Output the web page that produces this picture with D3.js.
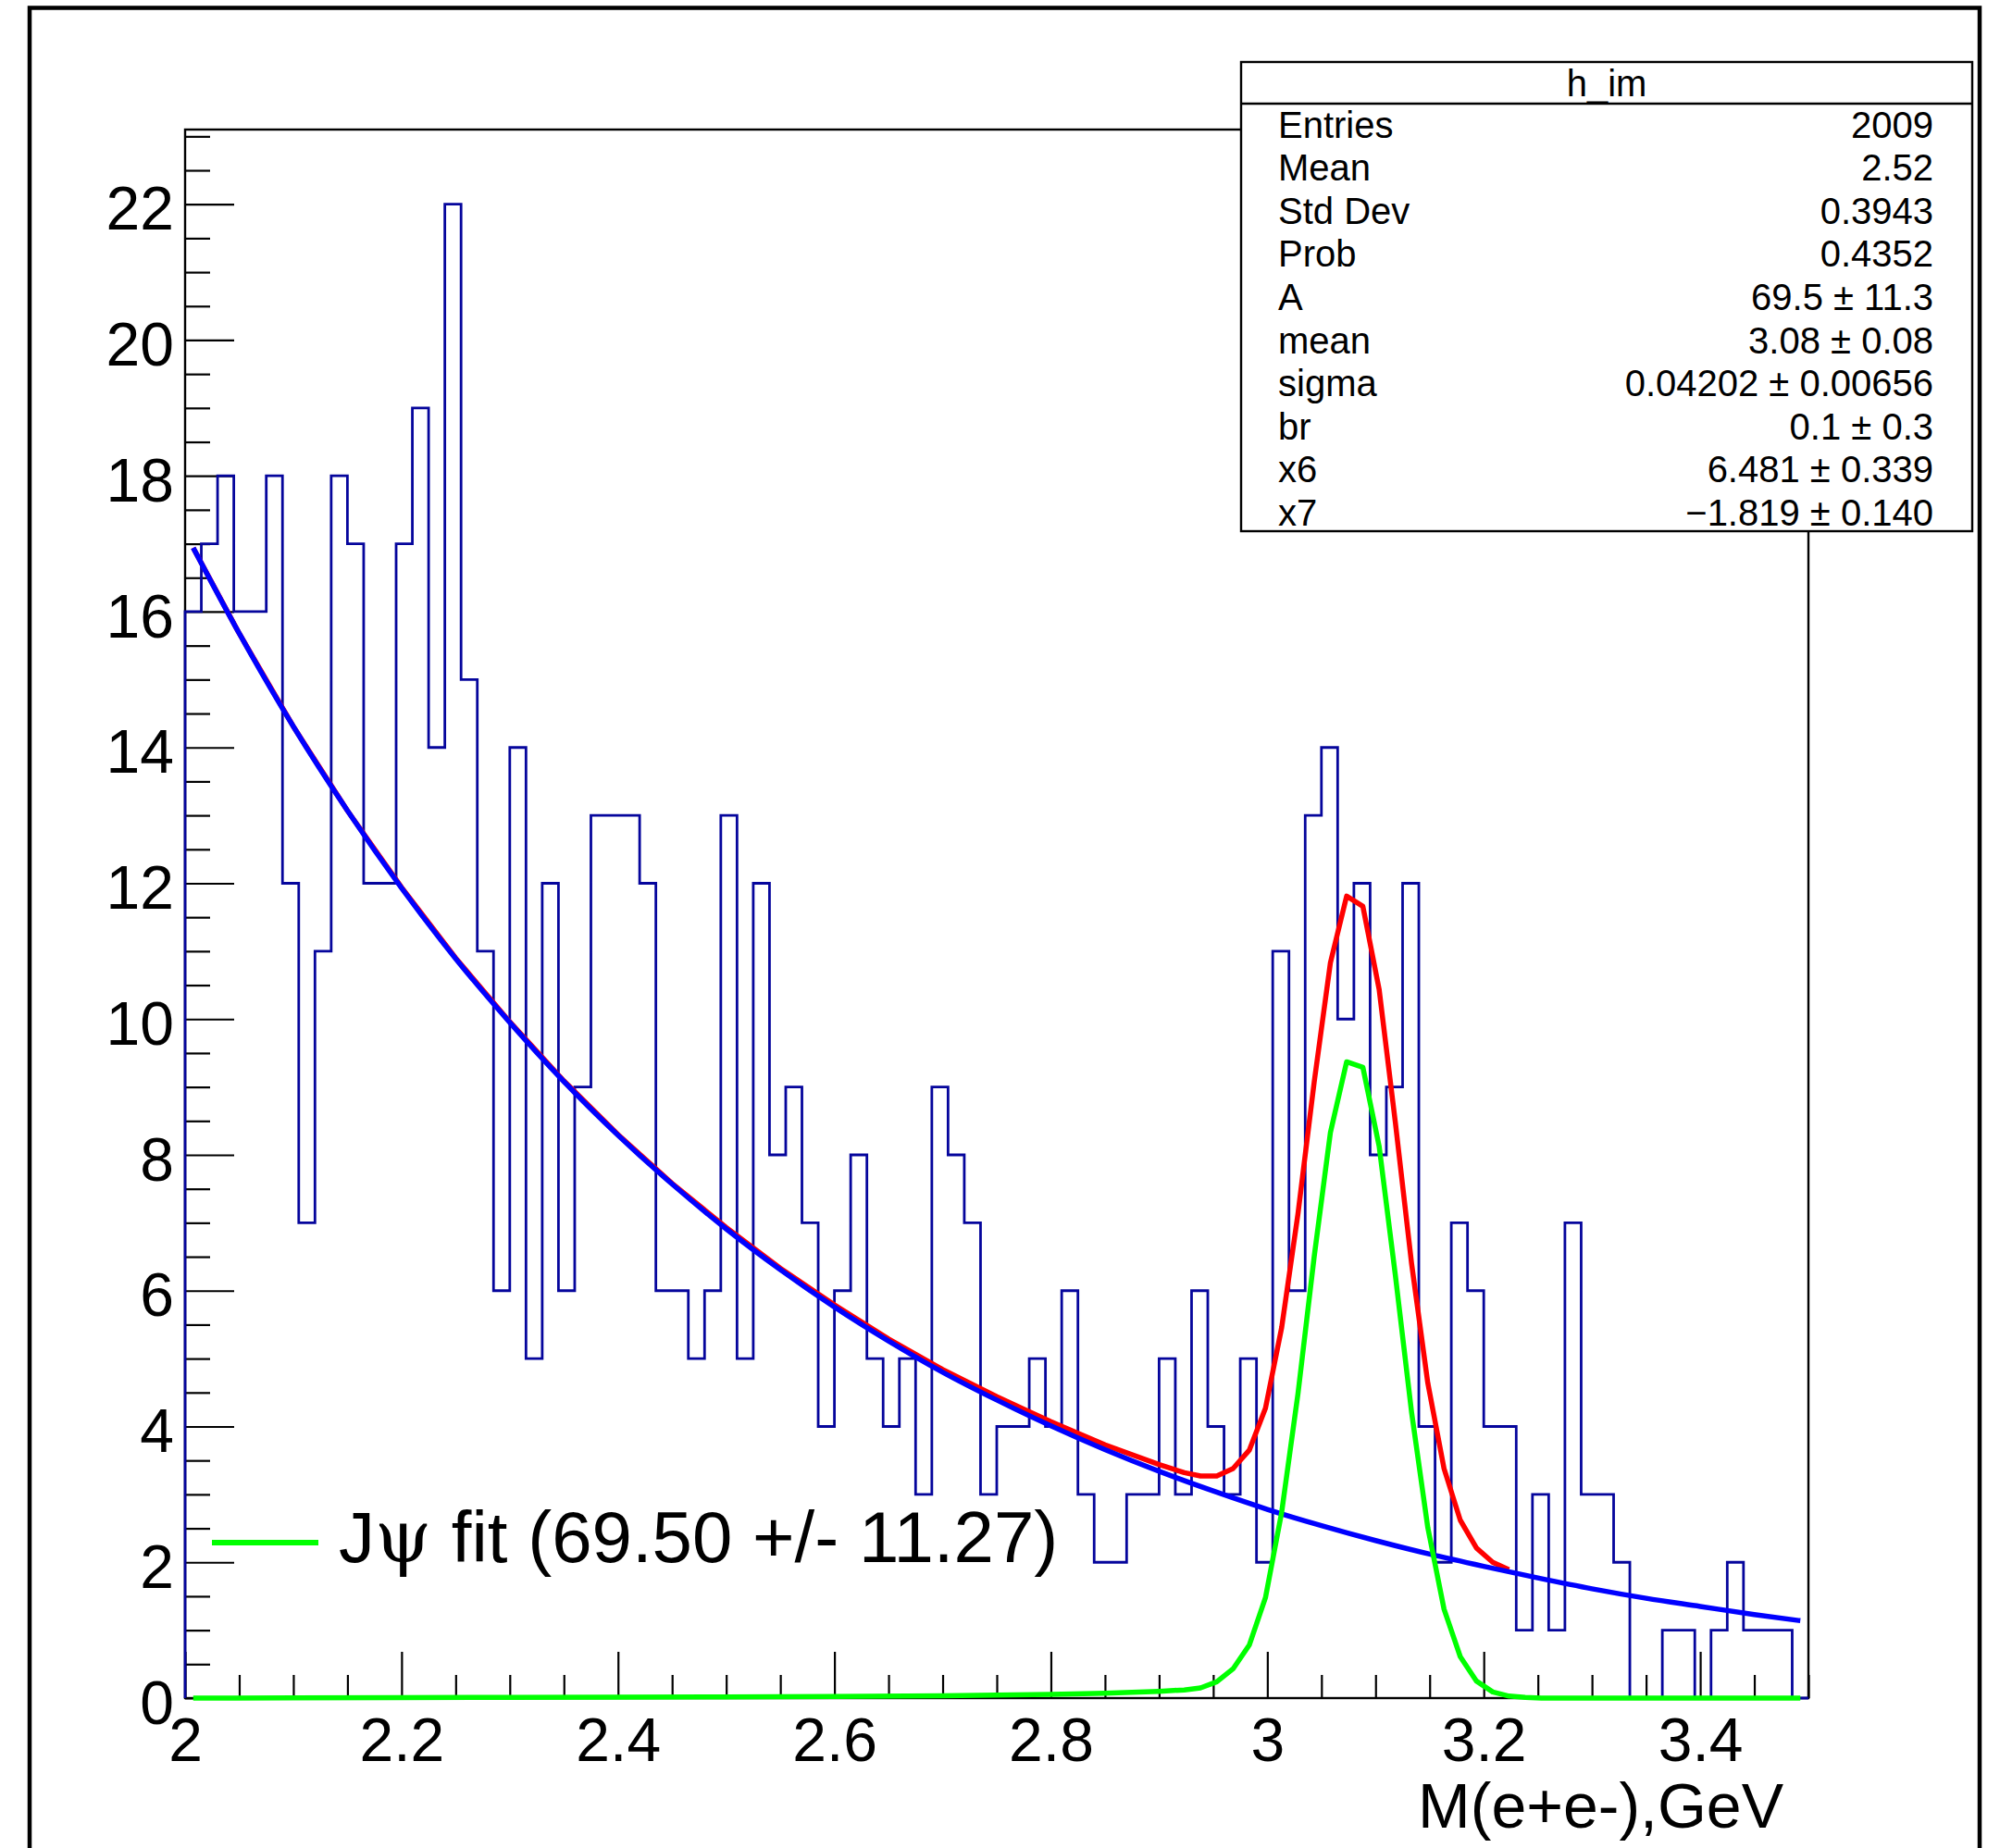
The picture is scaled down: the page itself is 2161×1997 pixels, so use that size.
<!DOCTYPE html>
<html>
<head>
<meta charset="utf-8">
<script src="https://cdn.jsdelivr.net/npm/d3@7"></script>
<style>
	body { margin: 0; background: #fff; }
	text { font-family: "Liberation Sans", Arial, Helvetica, sans-serif; }
</style>
</head>
<body>
<div id="container"></div>
<script>
// histogram h_im : 100 bins from 2.0 to 3.5 GeV
var binLow = 2.0, binWidth = 0.015;
var counts = [16, 17, 18, 16, 16, 18, 12, 7, 11, 18,
	17, 12, 12, 17, 19, 14, 22, 15, 11, 6,
	14, 5, 12, 6, 9, 13, 13, 13, 12, 6,
	6, 5, 6, 13, 5, 12, 8, 9, 7, 4,
	6, 8, 5, 4, 5, 3, 9, 8, 7, 3,
	4, 4, 5, 4, 6, 3, 2, 2, 3, 3,
	5, 3, 6, 4, 3, 5, 2, 11, 6, 13,
	14, 10, 12, 8, 9, 12, 4, 2, 7, 6,
	4, 4, 1, 3, 1, 7, 3, 3, 2, 0,
	0, 1, 1, 0, 1, 2, 1, 1, 1, 0];

// background fit (blue)
var bgX = [2.0075, 2.05, 2.10, 2.15, 2.20, 2.25, 2.30, 2.35, 2.40, 2.45, 2.50, 2.55, 2.60, 2.65, 2.70, 2.75,
	2.80, 2.85, 2.90, 2.95, 3.00, 3.05, 3.10, 3.15, 3.20, 3.25, 3.30, 3.35, 3.40, 3.45, 3.4925];
var bgY = [16.94, 15.68, 14.31, 13.07, 11.93, 10.89, 9.95, 9.08, 8.29, 7.57, 6.91, 6.31, 5.76, 5.26, 4.80, 4.39,
	4.01, 3.66, 3.34, 3.05, 2.78, 2.54, 2.32, 2.12, 1.94, 1.77, 1.61, 1.47, 1.35, 1.23, 1.14];

// total fit (red)
var totX = [2.0075, 2.05, 2.10, 2.15, 2.20, 2.25, 2.30, 2.35, 2.40, 2.45, 2.50, 2.55, 2.60, 2.65, 2.70, 2.75,
	2.80, 2.85, 2.90, 2.9233, 2.9383, 2.9533, 2.9683, 2.9833, 2.9983, 3.0133, 3.0283, 3.0433, 3.0583,
	3.0733, 3.0883, 3.1033, 3.1183, 3.1333, 3.1483, 3.1633, 3.1783, 3.1933, 3.2083, 3.2233];
var totY = [16.94, 15.68, 14.31, 13.07, 11.94, 10.90, 9.96, 9.09, 8.30, 7.58, 6.93, 6.33, 5.79, 5.29, 4.84, 4.44,
	4.07, 3.73, 3.44, 3.32, 3.27, 3.27, 3.38, 3.65, 4.27, 5.46, 7.13, 9.07, 10.83,
	11.81, 11.66, 10.44, 8.48, 6.40, 4.64, 3.38, 2.62, 2.21, 2.00, 1.89];

// J/psi signal (green)
var sigX = [2.0075, 2.10, 2.20, 2.30, 2.40, 2.50, 2.60, 2.70, 2.75, 2.80, 2.85, 2.90,
	2.9233, 2.9383, 2.9533, 2.9683, 2.9833, 2.9983, 3.0133, 3.0283, 3.0433, 3.0583, 3.0733,
	3.0883, 3.1033, 3.1183, 3.1333, 3.1483, 3.1633, 3.1783, 3.1933, 3.2083, 3.2233,
	3.2383, 3.2533, 3.30, 3.40, 3.4925];
var sigY = [0, 0.003, 0.006, 0.01, 0.012, 0.018, 0.025, 0.035, 0.045, 0.055, 0.07, 0.10,
	0.12, 0.15, 0.24, 0.43, 0.78, 1.48, 2.74, 4.48, 6.50, 8.33, 9.37,
	9.29, 8.13, 6.23, 4.21, 2.51, 1.31, 0.61, 0.25, 0.09, 0.03,
	0.01, 0, 0, 0, 0];

var xMajor = [2, 2.2, 2.4, 2.6, 2.8, 3, 3.2, 3.4];
var yMajor = [0, 2, 4, 6, 8, 10, 12, 14, 16, 18, 20, 22];

var statTitle = "h_im";
var statLabels = ["Entries", "Mean", "Std Dev", "Prob", "A", "mean", "sigma", "br", "x6", "x7"];
var statValues = ["2009", "2.52", "0.3943", "0.4352", "69.5 \u00b1 11.3", "3.08 \u00b1 0.08",
	"0.04202 \u00b1 0.00656", "0.1 \u00b1 0.3", "6.481 \u00b1 0.339", "\u22121.819 \u00b1 0.140"];

var legendLabel = "fit (69.50 +/- 11.27)";
var xTitle = "M(e+e-),GeV";

var margin = {top: 140, right: 207, bottom: 162, left: 200},
	width = 2161 - margin.left - margin.right,
	height = 1997 - margin.top - margin.bottom;

var x = d3.scaleLinear().domain([2, 3.5]).range([0, width]);
var y = d3.scaleLinear().domain([0, 23.1]).range([height, 0]);

var svg = d3.select("#container").append("svg")
	.attr("width", 2161)
	.attr("height", 1997);

svg.append("rect").attr("width", 2161).attr("height", 1997).attr("fill", "#fff");

// canvas border
svg.append("path")
	.attr("d", "M32,2005V8.5H2139V2005")
	.attr("fill", "none")
	.attr("stroke", "#000")
	.attr("stroke-width", 4.5);

var g = svg.append("g").attr("transform", "translate(" + margin.left + "," + margin.top + ")");

g.append("defs").append("clipPath")
	.attr("id", "frameClip")
	.append("rect")
	.attr("x", -4).attr("y", 0)
	.attr("width", width + 8).attr("height", height + 4);

g.append("rect")
	.attr("width", width)
	.attr("height", height)
	.attr("fill", "none")
	.attr("stroke", "#000")
	.attr("stroke-width", 2.4);

// axes: minor ticks every 0.05 on x, 0.5 on y
var minorX = d3.range(31).map(function(i) { return 2 + i * 0.05; }).filter(function(v) {
	return Math.abs(v * 5 - Math.round(v * 5)) > 1e-6;
});
var minorY = d3.range(47).map(function(i) { return i * 0.5; }).filter(function(v) { return v % 2 !== 0; });

var xAxis = d3.axisBottom(x).tickValues(xMajor).tickSize(-50).tickPadding(21)
	.tickFormat(d3.format("~g"));
var xAxisMinor = d3.axisBottom(x).tickValues(minorX).tickSize(-25).tickFormat("");
var yAxis = d3.axisLeft(y).tickValues(yMajor).tickSize(-53).tickPadding(12);
var yAxisMinor = d3.axisLeft(y).tickValues(minorY).tickSize(-27).tickFormat("");

function styleAxis(sel) {
	sel.select(".domain").remove();
	sel.attr("font-family", "Liberation Sans, Arial, Helvetica, sans-serif")
		.attr("font-size", 66);
	sel.selectAll("line").attr("stroke", "#000").attr("stroke-width", 2.2);
	sel.selectAll("text").attr("fill", "#000");
}

g.append("g").attr("class", "x axis").attr("transform", "translate(0," + height + ")").call(xAxis).call(styleAxis);
g.append("g").attr("class", "x axis minor").attr("transform", "translate(0," + height + ")").call(xAxisMinor).call(styleAxis);
g.append("g").attr("class", "y axis").call(yAxis).call(styleAxis)
	.selectAll("text").attr("dy", "0.41em");
g.append("g").attr("class", "y axis minor").call(yAxisMinor).call(styleAxis);

g.append("text")
	.attr("x", 1727)
	.attr("y", 1835)
	.attr("text-anchor", "end")
	.attr("font-size", 68)
	.text(xTitle);

// histogram outline
var histPts = [[binLow, 0]].concat(counts.map(function(c, i) { return [binLow + i * binWidth, c]; }));
histPts.push([binLow + counts.length * binWidth, 0]);

var stepLine = d3.line()
	.x(function(d) { return x(d[0]); })
	.y(function(d) { return y(d[1]); })
	.curve(d3.curveStepAfter);

g.append("path")
	.attr("class", "histogram")
	.datum(histPts)
	.attr("d", stepLine)
	.attr("fill", "none")
	.attr("stroke", "#05059c")
	.attr("stroke-width", 2.8);

// fit curves
var linePlain = d3.line()
	.x(function(d) { return x(d[0]); })
	.y(function(d) { return y(d[1]); });

var lineSmooth = d3.line()
	.x(function(d) { return x(d[0]); })
	.y(function(d) { return y(d[1]); })
	.curve(d3.curveMonotoneX);

var curves = g.append("g").attr("clip-path", "url(#frameClip)");

curves.append("path")
	.datum(d3.zip(totX, totY))
	.attr("d", linePlain)
	.attr("fill", "none")
	.attr("stroke", "#ff0000")
	.attr("stroke-width", 5.5)
	.attr("stroke-linejoin", "round");

curves.append("path")
	.datum(d3.zip(bgX, bgY))
	.attr("d", lineSmooth)
	.attr("fill", "none")
	.attr("stroke", "#0000ff")
	.attr("stroke-width", 5.5);

curves.append("path")
	.datum(d3.zip(sigX, sigY))
	.attr("d", linePlain)
	.attr("fill", "none")
	.attr("stroke", "#00ff00")
	.attr("stroke-width", 5.5)
	.attr("stroke-linejoin", "round");

// legend
var legend = svg.append("g").attr("class", "legend");
legend.append("line")
	.attr("x1", 229).attr("x2", 344)
	.attr("y1", 1667).attr("y2", 1667)
	.attr("stroke", "#00ff00")
	.attr("stroke-width", 6);
var legText = legend.append("text")
	.attr("x", 366)
	.attr("y", 1688)
	.attr("font-size", 78);
legText.append("tspan").text("J");
legText.append("tspan").attr("font-family", "DejaVu Serif, Liberation Serif, serif").text("\u03c8");
legText.append("tspan").text(" " + legendLabel);

// stats box
var stats = svg.append("g").attr("class", "stats");
stats.append("rect")
	.attr("x", 1341).attr("y", 67)
	.attr("width", 790).attr("height", 507)
	.attr("fill", "#fff")
	.attr("stroke", "#000")
	.attr("stroke-width", 2.4);
stats.append("line")
	.attr("x1", 1341).attr("x2", 2131)
	.attr("y1", 112).attr("y2", 112)
	.attr("stroke", "#000")
	.attr("stroke-width", 2.4);
stats.append("text")
	.attr("x", 1736).attr("y", 104)
	.attr("text-anchor", "middle")
	.attr("font-size", 40)
	.text(statTitle);

stats.selectAll("text.lab")
	.data(statLabels)
	.enter().append("text")
	.attr("class", "lab")
	.attr("x", 1381)
	.attr("y", function(d, i) { return 148.6 + i * 46.6; })
	.attr("font-size", 40)
	.text(function(d) { return d; });

stats.selectAll("text.val")
	.data(statValues)
	.enter().append("text")
	.attr("class", "val")
	.attr("x", 2089)
	.attr("y", function(d, i) { return 148.6 + i * 46.6; })
	.attr("text-anchor", "end")
	.attr("font-size", 40)
	.text(function(d) { return d; });
</script>
</body>
</html>
